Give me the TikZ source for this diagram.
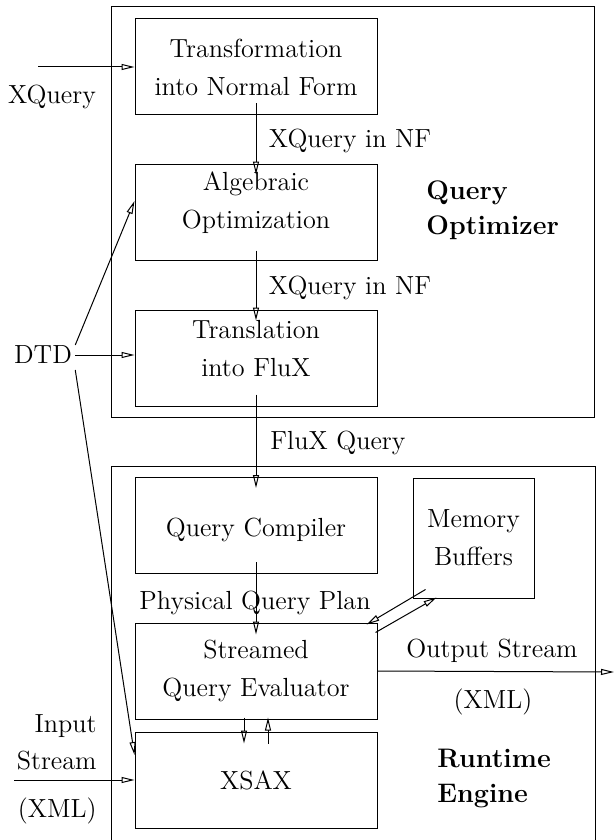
\documentclass[tikz,border=0pt]{standalone}
\usetikzlibrary{arrows.meta}
\newcommand\figfont{\fontsize{13.1}{19}\selectfont}
\newcommand\figbold{\fontsize{13.4}{17.5}\selectfont\bfseries}
\begin{document}
\begin{tikzpicture}[x=0.5pt,y=-0.5pt,
  every node/.style={font=\figfont},
  box/.style={draw, line width=0.5pt, minimum width=121pt, minimum height=48pt, inner sep=0pt, align=center},
  lbl/.style={inner sep=0pt, align=center},
  arr/.style={line width=0.5pt, -{Triangle[open,length=6.5pt,width=3pt]}},
  frame/.style={line width=0.5pt}]
\useasboundingbox (0,0) rectangle (614,840);
% containers
\draw[frame] (111,7) rectangle (594,417);
\draw[frame] (111,840) -- (111,466) -- (595,466) -- (595,840);
% boxes
\node[box] (tnf) at (256,67) {Transformation\\into Normal Form};
\node[box] (alg) at (256,212) {};
\node[lbl] (algt) at ([yshift=4.5pt]alg.center) {Algebraic\\Optimization};
\node[box] (trans) at (256,358) {};
\node[lbl] (transt) at ([yshift=4.5pt]trans.center) {Translation\\into FluX};
\node[box] (qc) at (256,525.5) {};
\node[lbl] (qct) at ([yshift=-2pt]qc.center) {Query Compiler};
\node[box, minimum width=60.5pt, minimum height=60pt] (mem) at (473.5,538) {Memory\\Buffers};
\node[box] (ev) at (256,671) {Streamed\\Query Evaluator};
\node[box] (xsax) at (256,780) {XSAX};
% labels
\node[lbl] (xq) at (52,97) {XQuery};
\node[lbl] (nf1) at (350,141) {XQuery in NF};
\node[lbl] (nf2) at (350,288) {XQuery in NF};
\node[lbl] (flux) at (338,443) {FluX Query};
\node[lbl] (pqp) at (255,603) {Physical Query Plan};
\node[lbl, inner sep=1.5pt] (dtd) at (43,355) {DTD};
\node[lbl, anchor=west, align=left, font=\figbold] (qo) at (426,210) {Query\\Optimizer};
\node[lbl, anchor=west, align=left, font=\figbold] (re) at (437,778) {Runtime\\Engine};
\node[lbl] (os) at (492,651) {Output Stream};
\node[lbl] (oxml) at (493,702) {(XML)};
\node[lbl, anchor=east] (in1) at (97,726) {Input};
\node[lbl, anchor=east] (in2) at (97,761) {Stream};
\node[lbl, anchor=east] (in3) at (97,811) {(XML)};
% free ends
\coordinate (xqs) at (38,67);
\coordinate (ins) at (14,780);
\coordinate (oute) at (614,672);
% connectors
\draw[arr] (xqs) -- (tnf.west);
\draw[arr] ([yshift=6pt]tnf.south) -- ([yshift=-5.5pt]alg.north);
\draw[arr] ([yshift=5pt]alg.south) -- ([yshift=-5.5pt]trans.north);
\draw[arr] ([yshift=6pt]trans.south) -- ([yshift=-5.5pt]qc.north);
\draw[arr] ([yshift=6pt]qc.south) -- ([yshift=-6pt]ev.north);
\draw[arr] ([yshift=5pt]dtd.east) -- ([yshift=5.5pt]alg.west);
\draw[arr] (dtd.east) -- (dtd.east -| trans.west);
\draw[arr] ([yshift=-7.5pt]dtd.east) -- ([yshift=12.5pt]xsax.west);
\draw[arr] (ins) -- (xsax.west);
\draw[arr] (ev.east) -- (oute);
\draw[arr] ([shift={(6.5pt,4.5pt)}]mem.south west) -- ([shift={(-5.5pt,-1pt)}]ev.north east);
\draw[arr] ([shift={(-1pt,-5pt)}]ev.north east) -- ([shift={(12pt,0.5pt)}]mem.south west);
\draw[arr] ([shift={(-6pt,1pt)}]ev.south) -- ([shift={(-6pt,-6pt)}]xsax.north);
\draw[arr] ([shift={(6pt,-6pt)}]xsax.north) -- ([shift={(6pt,1pt)}]ev.south);
\end{tikzpicture}
\end{document}
